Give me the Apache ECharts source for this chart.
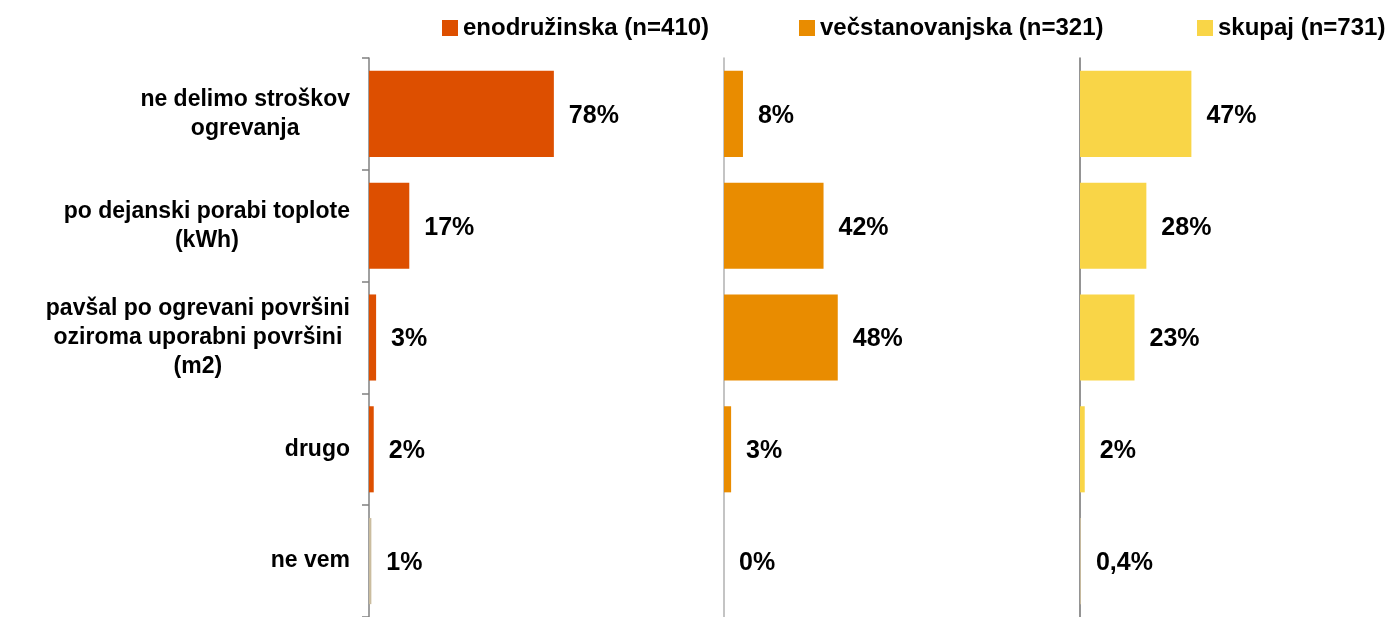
<!DOCTYPE html>
<html>
<head>
<meta charset="utf-8">
<script src="https://cdn.jsdelivr.net/npm/echarts@6/dist/echarts.min.js"></script>
<style>
html, body { margin: 0; padding: 0; background: #fff; }
#chart { width: 1394px; height: 617px; }
</style>
</head>
<body>
<div id="chart"></div>
<script>
var categories = [
	'ne delimo stroškov\nogrevanja',
	'po dejanski porabi toplote\n(kWh)',
	'pavšal po ogrevani površini\noziroma uporabni površini\n(m2)',
	'drugo',
	'ne vem'
];
var seriesNames = ['enodružinska (n=410)', 'večstanovanjska (n=321)', 'skupaj (n=731)'];
var enodruzinska = [78, 17, 3, 2, 1];
var vecstanovanjska = [8, 42, 48, 3, 0];
var skupaj = [47, 28, 23, 2, 0.4];
var colors = ['#dd4f00', '#e98c00', '#f9d547'];
var neVemColor = '#cbbd9f';

var gridLefts = [369, 724, 1080];
var axisColors = ['#808080', '#b0b0b0', '#707070'];
var legendLefts = [437, 794, 1192];
var FONT = 'Liberation Sans, Arial, sans-serif';

function makeData(values) {
	return values.map(function (v, i) {
		if (i === values.length - 1) {
			return { value: v, itemStyle: { color: neVemColor } };
		}
		return v;
	});
}

var grids = [], xAxes = [], yAxes = [], series = [], legends = [];
var allValues = [enodruzinska, vecstanovanjska, skupaj];

for (var k = 0; k < 3; k++) {
	grids.push({ left: gridLefts[k], top: 58, width: 237, height: 560 });
	xAxes.push({
		type: 'value', gridIndex: k, min: 0, max: 100, show: false
	});
	yAxes.push({
		type: 'category',
		gridIndex: k,
		data: categories,
		inverse: true,
		axisLine: { show: true, lineStyle: { color: axisColors[k], width: 1.5 } },
		axisTick: { show: k === 0, length: 7, lineStyle: { color: '#808080', width: 1.5 } },
		axisLabel: {
			show: k === 0,
			margin: 19,
			formatter: function (val) {
				return val.split('\n').map(function (s) { return '{c|' + s + '}'; }).join('\n');
			},
			rich: {
				c: {
					align: 'center',
					fontFamily: FONT,
					fontSize: 23,
					fontWeight: 'bold',
					color: '#000',
					lineHeight: 29
				}
			}
		},
		splitLine: { show: false }
	});
	series.push({
		name: seriesNames[k],
		type: 'bar',
		xAxisIndex: k,
		yAxisIndex: k,
		data: makeData(allValues[k]),
		barCategoryGap: '23%',
		itemStyle: { color: colors[k] },
		label: {
			show: true,
			position: 'right',
			distance: 15,
			fontFamily: FONT,
			fontSize: 25,
			fontWeight: 'bold',
			color: '#000',
			offset: [0, 2],
			formatter: function (p) {
				return String(p.value).replace('.', ',') + '%';
			}
		},
		emphasis: { disabled: true },
		animation: false
	});
	legends.push({
		data: [{ name: seriesNames[k], itemStyle: { color: colors[k] } }],
		left: legendLefts[k],
		top: 11,
		itemWidth: 16,
		itemHeight: 16,
		icon: 'rect',
		selectedMode: false,
		textStyle: { fontFamily: FONT, fontSize: 24, fontWeight: 'bold', color: '#000' }
	});
}

var option = {
	animation: false,
	legend: legends,
	grid: grids,
	xAxis: xAxes,
	yAxis: yAxes,
	series: series
};

var chart = echarts.init(document.getElementById('chart'));
chart.setOption(option);
</script>
</body>
</html>
